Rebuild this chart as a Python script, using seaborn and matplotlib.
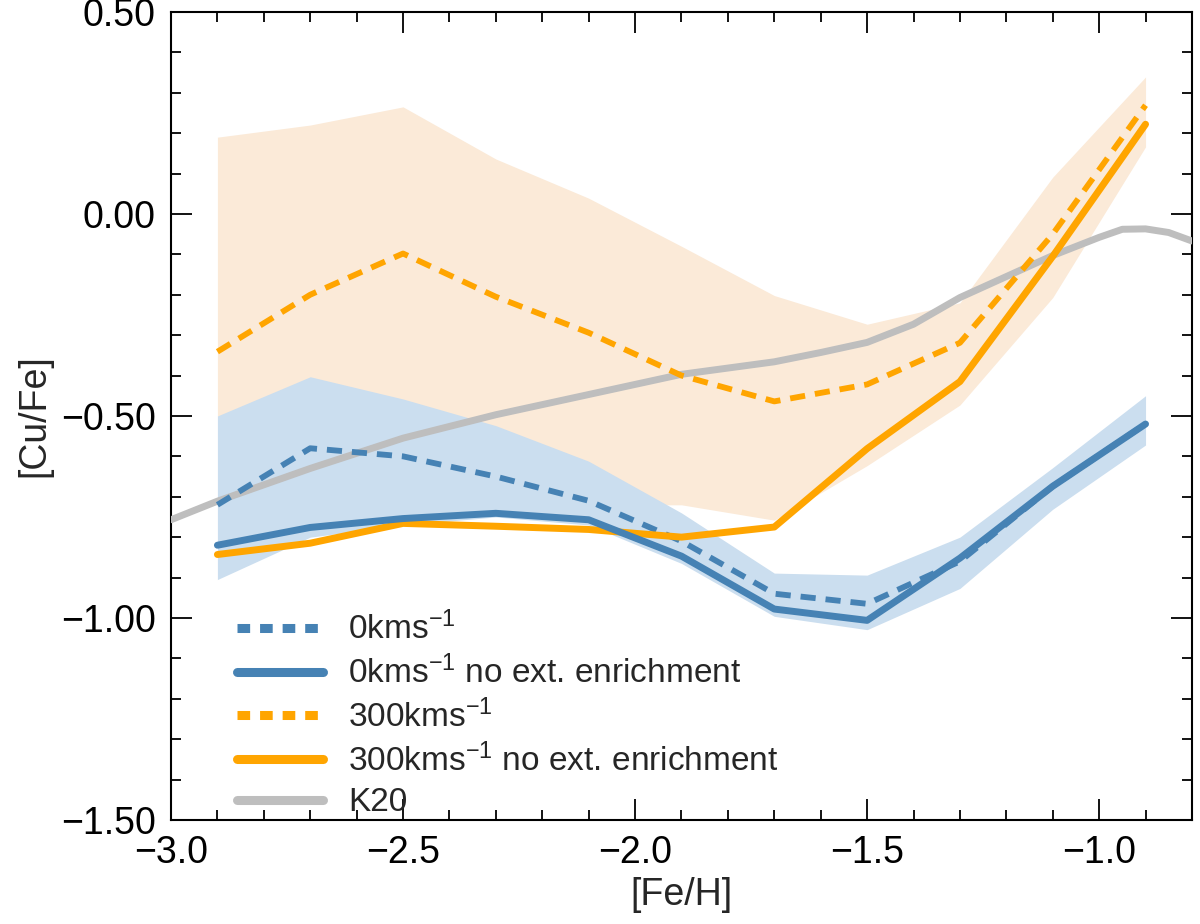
import numpy as np
import matplotlib
matplotlib.use("Agg")
import matplotlib.pyplot as plt
from matplotlib.ticker import MultipleLocator, FuncFormatter
import seaborn as sns

# metallicity bins of the models
feh = [-2.9, -2.7, -2.5, -2.3, -2.1, -1.9, -1.7, -1.5, -1.3, -1.1, -0.9]

# 0 km/s models
cu_0 = [-0.72, -0.58, -0.60, -0.65, -0.71, -0.81, -0.94, -0.965, -0.86, -0.674, -0.52]
cu_0_noext = [-0.82, -0.776, -0.754, -0.741, -0.757, -0.847, -0.978, -1.006, -0.852, -0.674, -0.52]
band_0_hi = [-0.50, -0.403, -0.458, -0.524, -0.612, -0.74, -0.889, -0.894, -0.80, -0.628, -0.45]
band_0_lo = [-0.905, -0.80, -0.77, -0.75, -0.77, -0.865, -0.996, -1.029, -0.927, -0.731, -0.572]

# 300 km/s models
cu_300 = [-0.341, -0.20, -0.098, -0.205, -0.294, -0.40, -0.464, -0.422, -0.319, -0.05, 0.269]
cu_300_noext = [-0.843, -0.815, -0.766, -0.773, -0.781, -0.80, -0.775, -0.581, -0.415, -0.105, 0.222]
band_300_hi = [0.19, 0.22, 0.265, 0.136, 0.039, -0.08, -0.202, -0.273, -0.22, 0.091, 0.339]
band_300_lo = [-0.50, -0.62, -0.66, -0.70, -0.72, -0.72, -0.758, -0.623, -0.473, -0.207, 0.166]

# K20 reference curve
k20_feh = [-3.0, -2.9, -2.7, -2.5, -2.3, -2.1, -1.9, -1.7, -1.6, -1.5, -1.4,
           -1.3, -1.2, -1.1, -1.0, -0.95, -0.9, -0.85, -0.8]
k20_cu = [-0.757, -0.711, -0.63, -0.555, -0.497, -0.447, -0.397, -0.366, -0.343,
          -0.318, -0.273, -0.207, -0.155, -0.103, -0.058, -0.038, -0.037, -0.046, -0.067]

blue = "#4682b4"
orange = "#ffa500"

sns.set_theme(style="ticks")
plt.rcParams["font.family"] = ["Liberation Sans", "DejaVu Sans"]
plt.rcParams["mathtext.fontset"] = "custom"
plt.rcParams["mathtext.rm"] = "Liberation Sans"
plt.rcParams["mathtext.it"] = "Liberation Sans"
plt.rcParams["axes.unicode_minus"] = True

fig = plt.figure(figsize=(12, 9.24), dpi=100)
ax = fig.add_axes([0.1425, 0.1126, 0.8508, 0.8745])

# shaded ranges
ax.fill_between(feh, band_300_lo, band_300_hi, color="#fbead8", lw=0, zorder=1)
ax.fill_between(feh, band_0_lo, band_0_hi, color="#cbdeef", lw=0, zorder=2)

sns.lineplot(x=k20_feh, y=k20_cu, ax=ax, color="#bebebe", lw=5,
             label="K20", zorder=3, sort=False)
sns.lineplot(x=feh, y=cu_0, ax=ax, color=blue, lw=4.2, dashes=False,
             linestyle=(0, (2.6, 1.7)), label="0kms$^{-1}$", zorder=4)
sns.lineplot(x=feh, y=cu_0_noext, ax=ax, color=blue, lw=5,
             label="0kms$^{-1}$ no ext. enrichment", zorder=5)
sns.lineplot(x=feh, y=cu_300, ax=ax, color=orange, lw=4.2, dashes=False,
             linestyle=(0, (2.6, 1.7)), label="300kms$^{-1}$", zorder=4)
sns.lineplot(x=feh, y=cu_300_noext, ax=ax, color=orange, lw=5,
             label="300kms$^{-1}$ no ext. enrichment", zorder=4)

ax.set_xlim(-3.0, -0.8)
ax.set_ylim(-1.5, 0.5)

ax.xaxis.set_major_locator(MultipleLocator(0.5))
ax.xaxis.set_minor_locator(MultipleLocator(0.1))
ax.yaxis.set_major_locator(MultipleLocator(0.5))
ax.yaxis.set_minor_locator(MultipleLocator(0.1))
ax.xaxis.set_major_formatter(FuncFormatter(lambda v, p: f"{v:.1f}".replace("-", "\u2212")))
ax.yaxis.set_major_formatter(FuncFormatter(lambda v, p: f"{v:.2f}".replace("-", "\u2212")))

ax.tick_params(which="both", direction="in", top=True, right=True, colors="black",
               labelsize=27, width=1.3)
ax.tick_params(which="major", length=15, pad=11)
ax.tick_params(which="minor", length=7)
for s in ax.spines.values():
    s.set_linewidth(1.5)
    s.set_color("black")

ax.set_xlabel("[Fe/H]", fontsize=27, labelpad=4)
ax.set_ylabel("[Cu/Fe]", fontsize=27, labelpad=6)

handles, labels = ax.get_legend_handles_labels()
order = [1, 2, 3, 4, 0]
leg = ax.legend([handles[i] for i in order], [labels[i] for i in order],
                loc="lower left", bbox_to_anchor=(0.035, -0.035), frameon=False,
                fontsize=24, handlelength=2.6, handletextpad=0.75, labelspacing=0.28)
for h in leg.get_lines():
    h.set_linewidth(6.5)
    if h.get_linestyle() != "-":
        h.set_dashes((1.4, 1.1))

fig.savefig("out.png", dpi=100)
